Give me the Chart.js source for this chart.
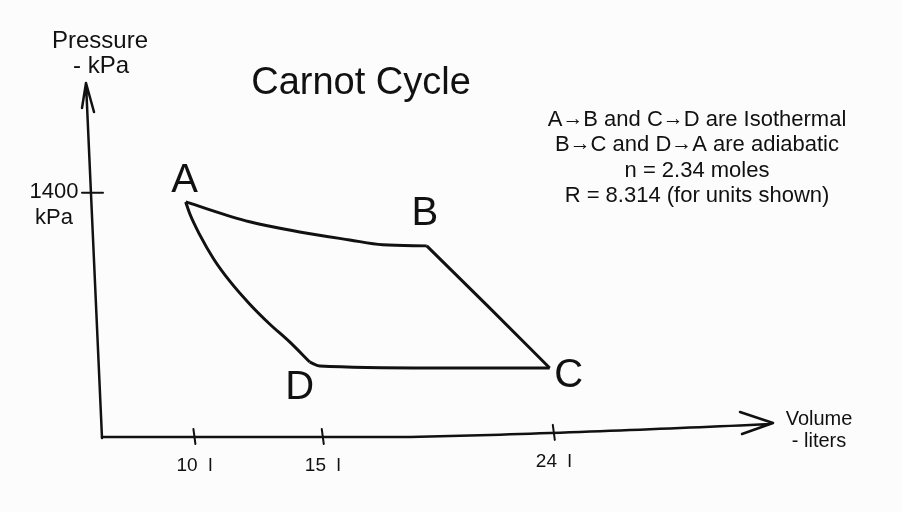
<!DOCTYPE html>
<html>
<head>
<meta charset="utf-8">
<script src="https://cdn.jsdelivr.net/npm/chart.js@4.4.1/dist/chart.umd.min.js"></script>
<style>
  html, body { margin: 0; padding: 0; background: #fcfcfc; }
  #wrap { width: 902px; height: 512px; }
</style>
</head>
<body>
<div id="wrap"><canvas id="chart"></canvas></div>
<script>
// Volume in liters, pressure in kPa
const volumeTicks = [10, 15, 24]
const pressureTicks = [1400]

const abVolume = [9.66, 12.15, 14.10, 16.05, 17.33, 19.05]
const abPressure = [1348, 1234, 1176, 1130, 1102, 1096]

const bcVolume = [19.05, 21.42, 23.84]
const bcPressure = [1096, 752, 396]

const cdVolume = [23.84, 19.28, 14.88, 14.49]
const cdPressure = [396, 396, 407, 430]

const daVolume = [14.49, 13.71, 12.93, 12.15, 11.37, 10.75, 10.21, 9.82, 9.66]
const daPressure = [430, 545, 648, 763, 895, 1021, 1159, 1280, 1348]

const stateLabels = ["A", "B", "C", "D"]
const notes = [
  "A\u2192B and C\u2192D are Isothermal",
  "B\u2192C and D\u2192A are adiabatic",
  "n = 2.34 moles",
  "R = 8.314 (for units shown)"
]

const FONT = '"Liberation Sans", Arial, sans-serif'
const ARROW = "\u2192"

function zip(xs, ys) {
  return xs.map((x, i) => ({ x: x, y: ys[i] }))
}

function segment(label, xs, ys) {
  return {
    label: label,
    data: zip(xs, ys),
    borderColor: "#111",
    borderWidth: 3,
    pointRadius: 0,
    cubicInterpolationMode: "monotone",
    fill: false
  }
}

// centered line of text; the arrow glyph is stretched to the long thin arrow of the sketch
function drawNote(ctx, text, cx, y, size) {
  const arrowWidth = size * 0.95
  const parts = text.split(ARROW)
  ctx.font = size + "px " + FONT
  const glyph = ctx.measureText(ARROW).width
  let total = 0
  parts.forEach((p, i) => {
    total += ctx.measureText(p).width
    if (i < parts.length - 1) total += arrowWidth
  })
  let x = cx - total / 2
  ctx.textAlign = "left"
  parts.forEach((p, i) => {
    ctx.fillText(p, x, y)
    x += ctx.measureText(p).width
    if (i < parts.length - 1) {
      ctx.save()
      ctx.translate(x, y - size * 0.06)
      ctx.scale(arrowWidth / glyph, 1)
      ctx.fillText(ARROW, 0, 0)
      ctx.restore()
      x += arrowWidth
    }
  })
  ctx.textAlign = "center"
}

const sketchPlugin = {
  id: "sketch",
  beforeDatasetsDraw(chart) {
    const ctx = chart.ctx
    const area = chart.chartArea
    const xs = chart.scales.x
    const ys = chart.scales.y
    const x0 = area.left
    const y0 = area.bottom
    const bend = 400
    const rise = 13
    const axisY = (px) => px <= bend ? y0 : y0 - Math.pow((px - bend) / (area.right - bend), 1.3) * rise

    ctx.save()
    ctx.strokeStyle = "#111"
    ctx.lineWidth = 2.5
    ctx.lineCap = "round"
    ctx.lineJoin = "round"

    // vertical axis, leaning a little like the hand drawing
    const topX = x0 - 16
    const topY = area.top
    ctx.beginPath()
    ctx.moveTo(x0, y0 + 1)
    ctx.lineTo(topX, topY)
    ctx.moveTo(topX - 4, topY + 25)
    ctx.lineTo(topX, topY)
    ctx.lineTo(topX + 8, topY + 29)
    ctx.stroke()

    // horizontal axis
    const tipX = area.right + 1
    const tipY = axisY(area.right) - 1
    ctx.beginPath()
    ctx.moveTo(x0, y0)
    for (let px = bend; px <= area.right; px += 10) ctx.lineTo(px, axisY(px))
    ctx.lineTo(tipX, tipY)
    ctx.moveTo(tipX - 33, tipY - 11)
    ctx.lineTo(tipX, tipY)
    ctx.lineTo(tipX - 31, tipY + 11)
    ctx.stroke()

    // x ticks
    ctx.lineWidth = 2
    ctx.fillStyle = "#111"
    ctx.font = "19px " + FONT
    ctx.textAlign = "center"
    ctx.textBaseline = "alphabetic"
    volumeTicks.forEach(v => {
      const px = xs.getPixelForValue(v)
      const ay = axisY(px)
      ctx.beginPath()
      ctx.moveTo(px - 1, ay - 8)
      ctx.lineTo(px + 1, ay + 7)
      ctx.stroke()
      ctx.fillText(v + "  l", px, ay + 34)
    })

    // y ticks
    pressureTicks.forEach(p => {
      const py = ys.getPixelForValue(p)
      ctx.beginPath()
      ctx.moveTo(x0 - 20, py)
      ctx.lineTo(x0 + 1, py)
      ctx.stroke()
      ctx.font = "22px " + FONT
      ctx.fillText(String(p), 54, py + 5)
      ctx.fillText("kPa", 54, py + 31)
    })

    // axis titles
    ctx.font = "24px " + FONT
    ctx.fillText("Pressure", 100, topY - 35)
    ctx.fillText("- kPa", 101, topY - 10)
    ctx.font = "20px " + FONT
    ctx.fillText("Volume", 819, 425)
    ctx.fillText("- liters", 819, 447)

    // chart title
    ctx.font = "38px " + FONT
    ctx.fillText("Carnot Cycle", 361, 94)

    // notes
    notes.forEach((t, i) => drawNote(ctx, t, 697, 126 + i * 25.3, 22))

    ctx.restore()
  },
  afterDatasetsDraw(chart) {
    const ctx = chart.ctx
    const xs = chart.scales.x
    const ys = chart.scales.y
    const corners = [
      [abVolume[0], abPressure[0], -1, -10],
      [bcVolume[0], bcPressure[0], -2, -21],
      [cdVolume[0], cdPressure[0], 19, 19],
      [daVolume[0], daPressure[0], -10, 37]
    ]
    ctx.save()
    ctx.fillStyle = "#111"
    ctx.font = "40px " + FONT
    ctx.textAlign = "center"
    corners.forEach((c, i) => {
      const px = xs.getPixelForValue(c[0])
      const py = ys.getPixelForValue(c[1])
      ctx.fillText(stateLabels[i], px + c[2], py + c[3])
    })
    ctx.restore()
  }
}

new Chart(document.getElementById("chart"), {
  type: "line",
  data: {
    datasets: [
      segment("A-B", abVolume, abPressure),
      segment("B-C", bcVolume, bcPressure),
      segment("C-D", cdVolume, cdPressure),
      segment("D-A", daVolume, daPressure)
    ]
  },
  options: {
    responsive: true,
    maintainAspectRatio: false,
    animation: false,
    layout: { padding: { left: 102, right: 130, top: 83, bottom: 75 } },
    plugins: {
      legend: { display: false },
      title: { display: false },
      tooltip: { enabled: false }
    },
    scales: {
      x: { type: "linear", min: 6.4, max: 32.5, display: false },
      y: { type: "linear", min: 0, max: 2030, display: false }
    }
  },
  plugins: [sketchPlugin]
})
</script>
</body>
</html>
